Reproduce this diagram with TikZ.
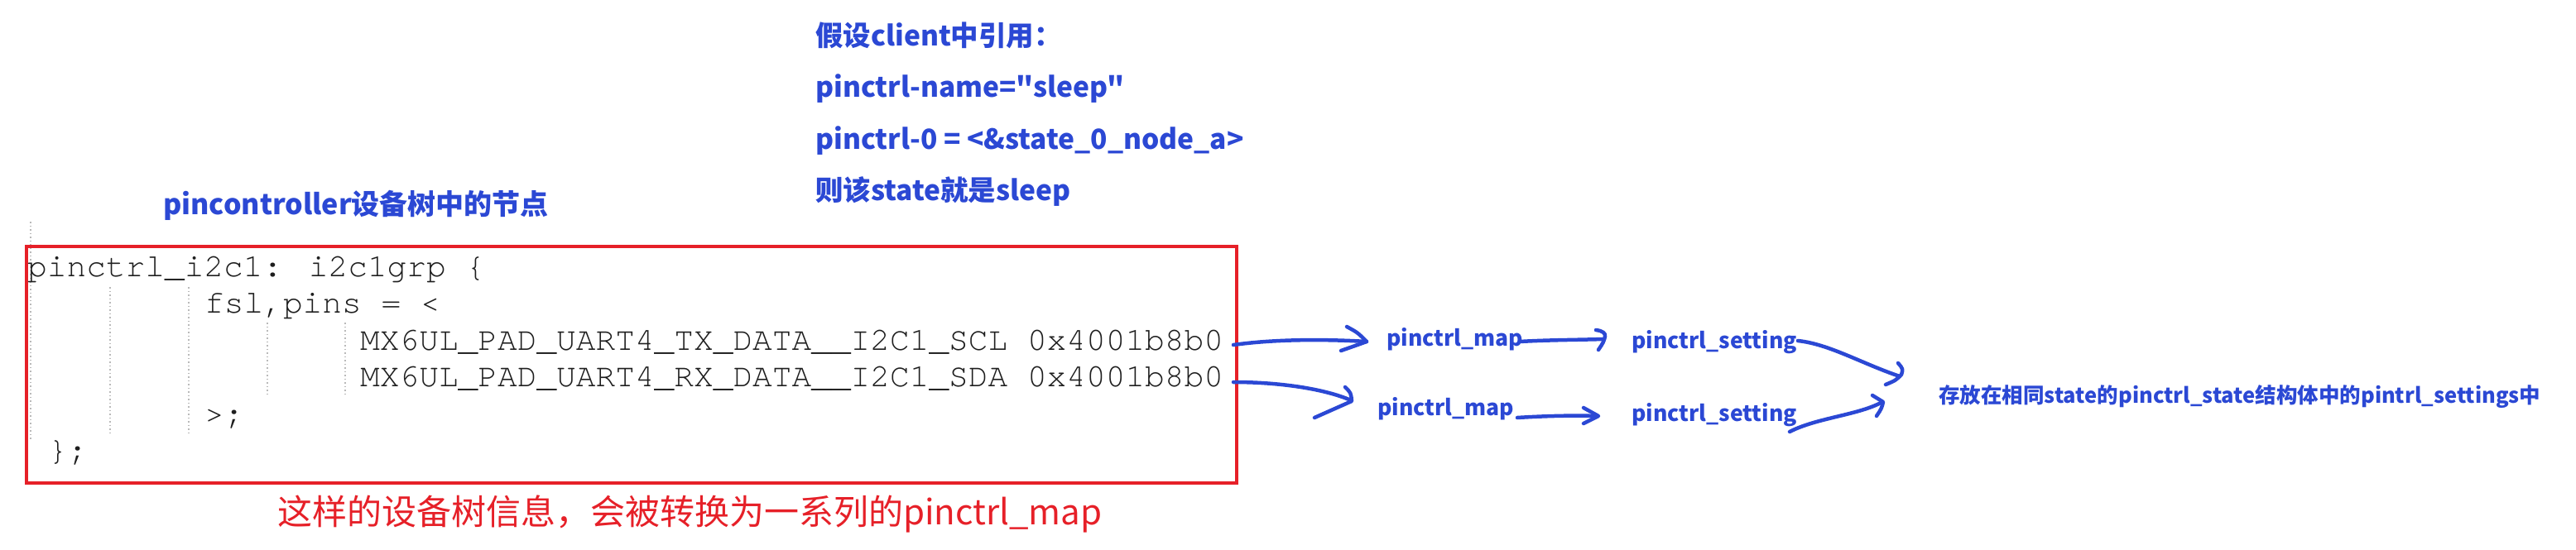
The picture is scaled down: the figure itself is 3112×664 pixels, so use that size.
\documentclass[tikz,border=0pt]{standalone}
\usepackage{fontspec}
\newfontfamily\cjk{Noto Sans CJK SC}
\newfontfamily\code{texgyrecursor}[Extension=.otf, UprightFont=*-regular]
\definecolor{pblue}{RGB}{43,72,212}
\definecolor{pred}{RGB}{230,32,40}
\definecolor{guide}{RGB}{185,185,185}
\definecolor{codeink}{RGB}{30,30,30}
\begin{document}
\begin{tikzpicture}[x=1pt,y=-1pt,
  bluetxt/.style={inner sep=0pt, anchor=base west, text=pblue, font=\cjk\bfseries\fontsize{#1}{#1}\selectfont},
  redtxt/.style={inner sep=0pt, anchor=base west, text=pred, font=\cjk\fontsize{#1}{#1}\selectfont},
  codetxt/.style={inner sep=0pt, anchor=base west, text=codeink, font=\code\fontsize{39.5}{44}\selectfont},
  guideline/.style={draw=guide, line width=1.5pt, dash pattern=on 1.5pt off 3pt},
  pen/.style={draw=pblue, line width=4.5pt, line cap=round, line join=round},
  codeframe/.style={draw=pred, line width=4pt, inner sep=0pt, anchor=north west}
]
\useasboundingbox (0,0) rectangle (3112,664);

% top explanation
\node[bluetxt=33.5] (t1) at (985,55) {假设client中引用：};
\node[bluetxt=33.5] (t2) at (985,117) {pinctrl-name="sleep"};
\node[bluetxt=33.5] (t3) at (985,180) {pinctrl-0 = <\&state\_0\_node\_a>};
\node[bluetxt=33.5] (t4) at (985,242) {则该state就是sleep};

\node[bluetxt=34] (title) at (197,259) {pincontroller设备树中的节点};

% indentation guides
\draw[guideline] (37,268) -- (37,533);
\draw[guideline] (133,347) -- (133,527);
\draw[guideline] (228,347) -- (228,527);
\draw[guideline] (323,390) -- (323,478);
\draw[guideline] (417,390) -- (417,478);

% code box
\node[codeframe, minimum width=1462pt, minimum height=286pt] (box) at (30,296) {};
\node[codetxt] (c1) at (33,334) {pinctrl\_i2c1: i2c1grp \{};
\node[codetxt] (c2) at (247,378.5) {fsl,pins = <};
\node[codetxt] (c3) at (435,423) {MX6UL\_PAD\_UART4\_TX\_DATA\_\_I2C1\_SCL 0x4001b8b0};
\node[codetxt] (c4) at (435,467.5) {MX6UL\_PAD\_UART4\_RX\_DATA\_\_I2C1\_SDA 0x4001b8b0};
\node[codetxt] (c5) at (247,512) {>;};
\node[codetxt] (c6) at (58,556.5) {\};};

\node[redtxt=42] (note) at (335,634) {这样的设备树信息，会被转换为一系列的pinctrl\_map};

% labels on the right
\node[bluetxt=26.5] (map1) at (1675,418) {pinctrl\_map};
\node[bluetxt=26.5] (set1) at (1971,421) {pinctrl\_setting};
\node[bluetxt=26.5] (map2) at (1664,502) {pinctrl\_map};
\node[bluetxt=26.5] (set2) at (1971,509) {pinctrl\_setting};
\node[bluetxt=25.5] (store) at (2342,487) {存放在相同state的pinctrl\_state结构体中的pintrl\_settings中};

% connector end points
\coordinate (a1s) at (1490,417);
\coordinate (a1e) at (1651,413);
\coordinate (a2s) at (1836,413);
\coordinate (a2e) at (1937,410);
\coordinate (a3s) at (2172,412);
\coordinate (a3e) at (2295,455);
\coordinate (a4s) at (1490,462);
\coordinate (a4e) at (1632,484);
\coordinate (a5s) at (1833,505);
\coordinate (a5e) at (1930,503);
\coordinate (a6s) at (2162,522);
\coordinate (a6e) at (2274,486);

% hand drawn arrows
\draw[pen] (a1s) .. controls (1540,410) and (1600,410) .. (a1e);
\draw[pen] (1627,395) .. controls (1640,402) .. (a1e) .. controls (1640,417) .. (1620,424);

\draw[pen] (a2s) .. controls (1870,411) and (1905,411) .. (a2e);
\draw[pen] (1928,399) .. controls (1936,400) and (1940,403) .. (1939,407) .. controls (1937,414) .. (1931,423);

\draw[pen] (a3s) .. controls (2210,416) and (2250,440) .. (a3e);
\draw[pen] (2293,439) .. controls (2299,446) .. (2297,453) .. controls (2290,460) .. (2278,465);

\draw[pen] (a4s) .. controls (1545,462) and (1600,470) .. (a4e);
\draw[pen] (1625,468) .. controls (1632,475) .. (1633,485) .. controls (1610,495) .. (1588,505);

\draw[pen] (a5s) .. controls (1865,503) and (1900,502) .. (a5e);
\draw[pen] (1913,493) -- (1931,503) -- (1913,512);

\draw[pen] (a6s) .. controls (2195,505) and (2245,502) .. (a6e);
\draw[pen] (2262,478) -- (2275,486) .. controls (2273,494) .. (2267,503);
\end{tikzpicture}
\end{document}
